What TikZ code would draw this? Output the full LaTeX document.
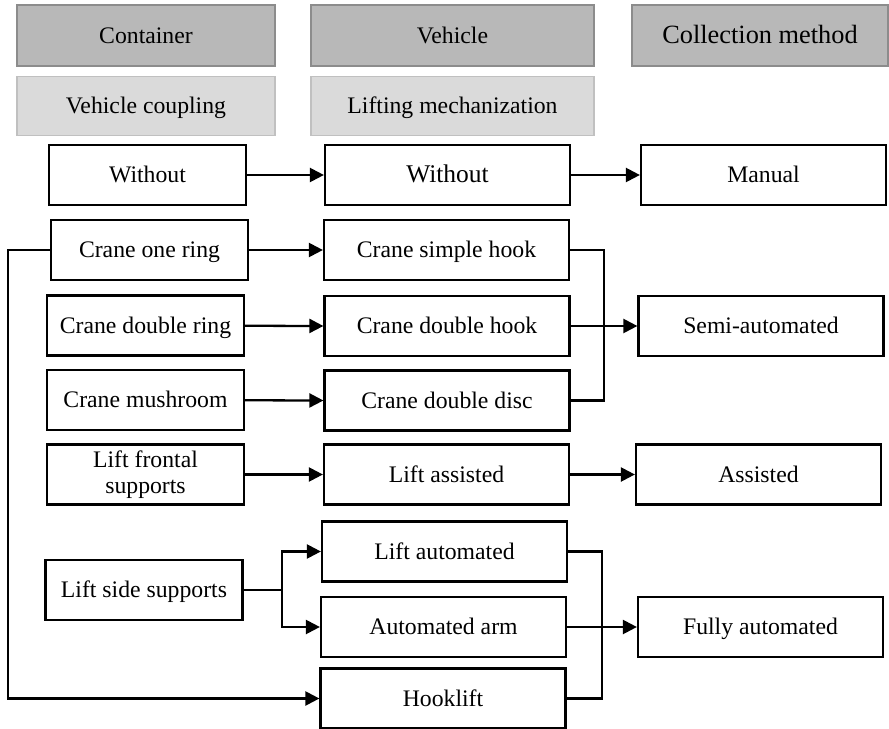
\documentclass[tikz,border=0pt]{standalone}
\usepackage{fontspec}
\setmainfont{Liberation Serif}
\usepackage{tikz}
\usetikzlibrary{arrows.meta}
\definecolor{headfill}{RGB}{184,184,184}
\definecolor{headline}{RGB}{140,140,140}
\definecolor{subfill}{RGB}{218,218,218}
\definecolor{subline}{RGB}{192,192,192}

\begin{document}
\begin{tikzpicture}[x=0.02cm,y=-0.02cm,
    box/.style={shape=rectangle, draw, line width=1.3pt, inner sep=0pt,
      minimum height=1.2cm, align=center, text height=11.5pt, text depth=2.7pt,
      font=\fontsize{13.5}{15}\selectfont},
    lbox/.style={box, minimum width=3.94cm},
    mbox/.style={box, minimum width=4.9cm},
    head/.style={shape=rectangle, draw=headline, fill=headfill, line width=1pt,
      inner sep=0pt, minimum height=1.22cm, text height=11.5pt, text depth=2.7pt,
      font=\fontsize{13.5}{15}\selectfont},
    sub/.style={head, draw=subline, fill=subfill, minimum height=1.18cm},
    link/.style={line width=1.3pt},
    arr/.style={link, -{Triangle[length=2.8mm,width=2.8mm]}}]
    \useasboundingbox (0,0) rectangle (889,729);

    % headers
    \node[head, minimum width=5.16cm] (container) at (146,35.5) {Container};
    \node[head, minimum width=5.66cm] (vehicle) at (452.5,35.5) {Vehicle};
    \node[head, minimum width=5.12cm, font=\fontsize{15}{17}\selectfont] (method) at (760,35.5) {Collection method};
    \node[sub, minimum width=5.16cm] (coupling) at (146,106) {Vehicle coupling};
    \node[sub, minimum width=5.66cm] (lifting) at (452.5,106) {Lifting mechanization};

    % container column
    \node[lbox] (withoutC) at (147.5,175) {Without};
    \node[lbox] (oneRing) at (149.5,250) {Crane one ring};
    \node[lbox] (doubleRing) at (145.5,325.5) {Crane double ring};
    \node[lbox] (mushroom) at (145.5,400) {Crane mushroom};
    \node[lbox, text height=, text depth=] (frontal) at (145.5,474.5) {Lift frontal\\supports};
    \node[lbox] (side) at (144,590) {Lift side supports};

    % vehicle column
    \node[mbox, font=\fontsize{14.5}{16}\selectfont] (withoutV) at (447.5,175) {Without};
    \node[mbox] (simpleHook) at (446.5,250) {Crane simple hook};
    \node[mbox] (doubleHook) at (447,326) {Crane double hook};
    \node[mbox] (doubleDisc) at (447,400.5) {Crane double disc};
    \node[mbox] (liftAssisted) at (446.5,474.5) {Lift assisted};
    \node[mbox] (liftAuto) at (444.5,551.5) {Lift automated};
    \node[mbox] (autoArm) at (443.5,627) {Automated arm};
    \node[mbox] (hooklift) at (443,698.5) {Hooklift};

    % collection column
    \node[mbox] (manual) at (763.5,175) {Manual};
    \node[mbox] (semi) at (761,326) {Semi-automated};
    \node[mbox] (assisted) at (758.5,474.5) {Assisted};
    \node[mbox] (fully) at (760.5,627) {Fully automated};

    \coordinate (semiBar) at (604,326);
    \coordinate (fullBar) at (602,627);
    \coordinate (split) at (282,590);
    \coordinate (loop) at (8,250);

    \draw[arr] (withoutC) -- (withoutV);
    \draw[arr] (withoutV) -- (manual);
    \draw[arr] (oneRing) -- (simpleHook);
    \draw[arr] (doubleRing) -- (doubleHook.west);
    \draw[arr] (mushroom) -- (doubleDisc.west);
    \draw[arr] (frontal) -- (liftAssisted);
    \draw[arr] (liftAssisted) -- (assisted);

    \draw[link] (simpleHook.east) -- (simpleHook.east -| semiBar)
      -- (doubleDisc.east -| semiBar) -- (doubleDisc.east);
    \draw[arr] (doubleHook.east) -- (semi.west);

    \draw[link] (side.east) -- (split);
    \draw[arr] (split) |- (liftAuto.west);
    \draw[arr] (split) |- (autoArm.west);

    \draw[link] (liftAuto.east) -- (liftAuto.east -| fullBar)
      -- (hooklift.east -| fullBar) -- (hooklift.east);
    \draw[arr] (autoArm.east) -- (fully.west);

    \draw[arr] (oneRing.west) -- (loop) -- (loop |- hooklift.west) -- (hooklift.west);
  \end{tikzpicture}
\end{document}
